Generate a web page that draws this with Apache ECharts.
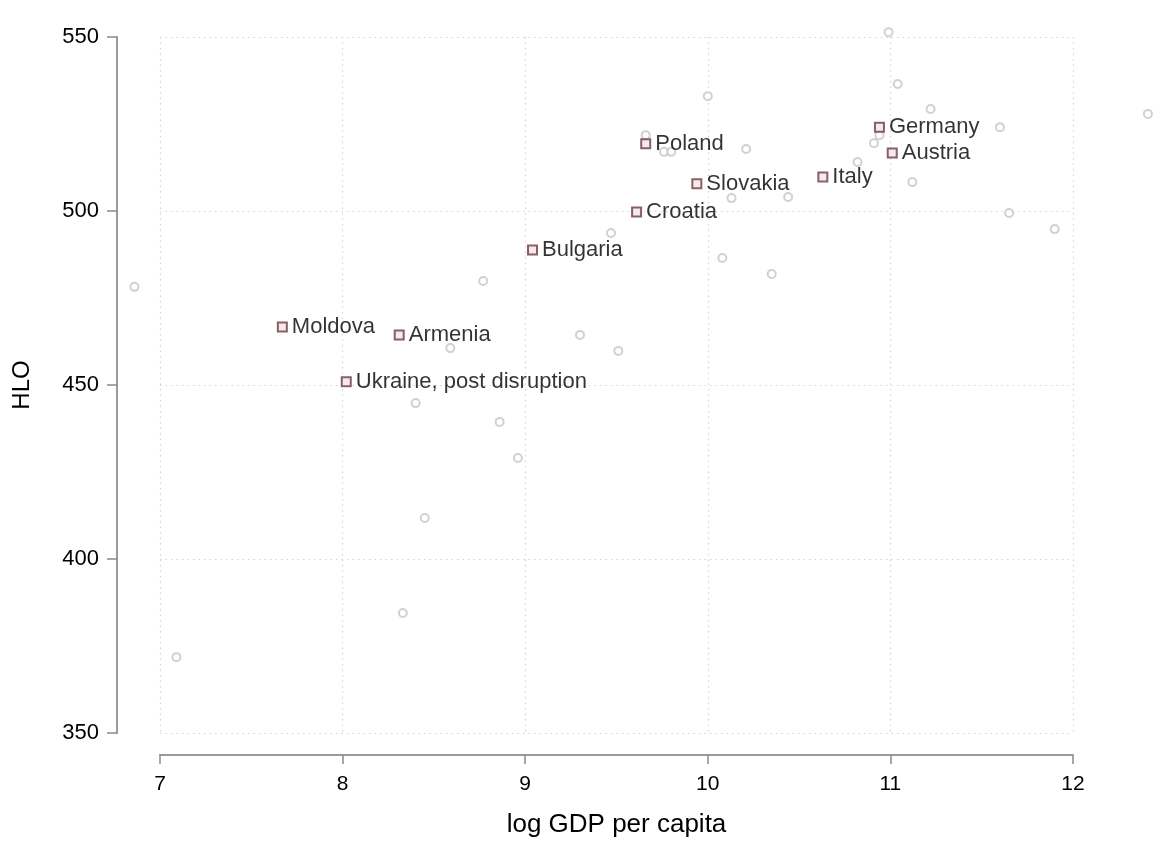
<!DOCTYPE html>
<html>
<head>
<meta charset="utf-8">
<script src="https://cdn.jsdelivr.net/npm/echarts@6/dist/echarts.min.js"></script>
<style>
  html, body { margin: 0; padding: 0; background: #ffffff; }
  #chart { width: 1166px; height: 843px; }
</style>
</head>
<body>
<div id="chart"></div>
<script>
// Highlighted countries
const countries = ['Poland', 'Slovakia', 'Croatia', 'Bulgaria', 'Moldova', 'Armenia', 'Ukraine, post disruption', 'Italy', 'Germany', 'Austria'];
const countryGdp = [9.66, 9.94, 9.61, 9.04, 7.67, 8.31, 8.02, 10.63, 10.94, 11.01];
const countryHlo = [519.3, 507.8, 499.7, 488.8, 466.7, 464.4, 450.9, 509.8, 524.1, 516.7];

// Other countries (grey circles)
const otherGdp = [6.86, 7.09, 8.33, 8.45, 8.40, 8.86, 8.96, 8.59, 8.77, 9.30, 9.51, 9.47, 10.08, 10.35, 9.66, 9.76, 9.80, 10.00, 10.21, 10.13, 10.44, 10.99, 11.04, 11.22, 11.60, 12.41, 10.91, 10.94, 10.82, 11.12, 11.65, 11.90];
const otherHlo = [478.2, 371.8, 384.5, 411.8, 444.8, 439.4, 429.0, 460.6, 479.9, 464.4, 459.8, 493.7, 486.5, 481.9, 521.8, 517.0, 517.0, 533.0, 517.8, 503.7, 504.0, 551.4, 536.5, 529.3, 524.1, 527.9, 519.5, 521.8, 514.1, 508.3, 499.4, 494.8];

// Axis settings
const xTicks = { min: 7, max: 12, interval: 1 };
const yTicks = { min: 350, max: 550, interval: 50 };
const xTitle = 'log GDP per capita';
const yTitle = 'HLO';

const FONT = '"Liberation Sans", Arial, Helvetica, sans-serif';

const otherData = otherGdp.map((g, i) => [g, otherHlo[i]]);
const countryData = countries.map((c, i) => ({ value: [countryGdp[i], countryHlo[i]], name: c }));

const chart = echarts.init(document.getElementById('chart'), null, { renderer: 'canvas' });
chart.setOption({
  backgroundColor: '#ffffff',
  animation: false,
  grid: { left: 160, right: 93, top: 37, bottom: 110, containLabel: false },
  xAxis: {
    type: 'value',
    min: xTicks.min, max: xTicks.max, interval: xTicks.interval,
    offset: 22,
    name: xTitle,
    nameLocation: 'middle',
    nameGap: 57,
    nameTextStyle: { fontFamily: FONT, fontSize: 26, color: '#000' },
    axisLine: { show: true, onZero: false, lineStyle: { color: '#9a9a9a', width: 2 } },
    axisTick: { show: true, length: 9, lineStyle: { color: '#8a8a8a', width: 1.5 } },
    axisLabel: { fontFamily: FONT, fontSize: 21, color: '#000', margin: 19 },
    splitLine: { show: true, lineStyle: { color: '#d4d4d4', width: 1.2, type: [1.5, 4] } }
  },
  yAxis: {
    type: 'value',
    min: yTicks.min, max: yTicks.max, interval: yTicks.interval,
    offset: 43,
    name: yTitle,
    nameLocation: 'middle',
    nameGap: 83,
    nameRotate: 90,
    nameTextStyle: { fontFamily: FONT, fontSize: 24, color: '#000' },
    axisLine: { show: true, onZero: false, lineStyle: { color: '#9a9a9a', width: 2 } },
    axisTick: { show: true, length: 10, lineStyle: { color: '#8a8a8a', width: 1.5 } },
    axisLabel: { fontFamily: FONT, fontSize: 22, color: '#000', margin: 18 },
    splitLine: { show: true, lineStyle: { color: '#d4d4d4', width: 1.2, type: [1.5, 4] } }
  },
  series: [
    {
      type: 'scatter',
      data: otherData,
      clip: false,
      symbol: 'circle',
      symbolSize: 8,
      z: 2,
      itemStyle: { color: '#ffffff', borderColor: '#c6c6c6', borderWidth: 2 },
      emphasis: { disabled: true }
    },
    {
      type: 'scatter',
      data: countryData,
      clip: false,
      symbol: 'rect',
      symbolSize: 9,
      z: 3,
      itemStyle: { color: '#f3e4e6', borderColor: '#6d3a44', borderWidth: 2 },
      label: {
        show: true,
        position: 'right',
        distance: 4,
        formatter: p => p.name,
        fontFamily: FONT,
        fontSize: 22,
        color: '#000000'
      },
      emphasis: { disabled: true }
    }
  ]
});
</script>
</body>
</html>
